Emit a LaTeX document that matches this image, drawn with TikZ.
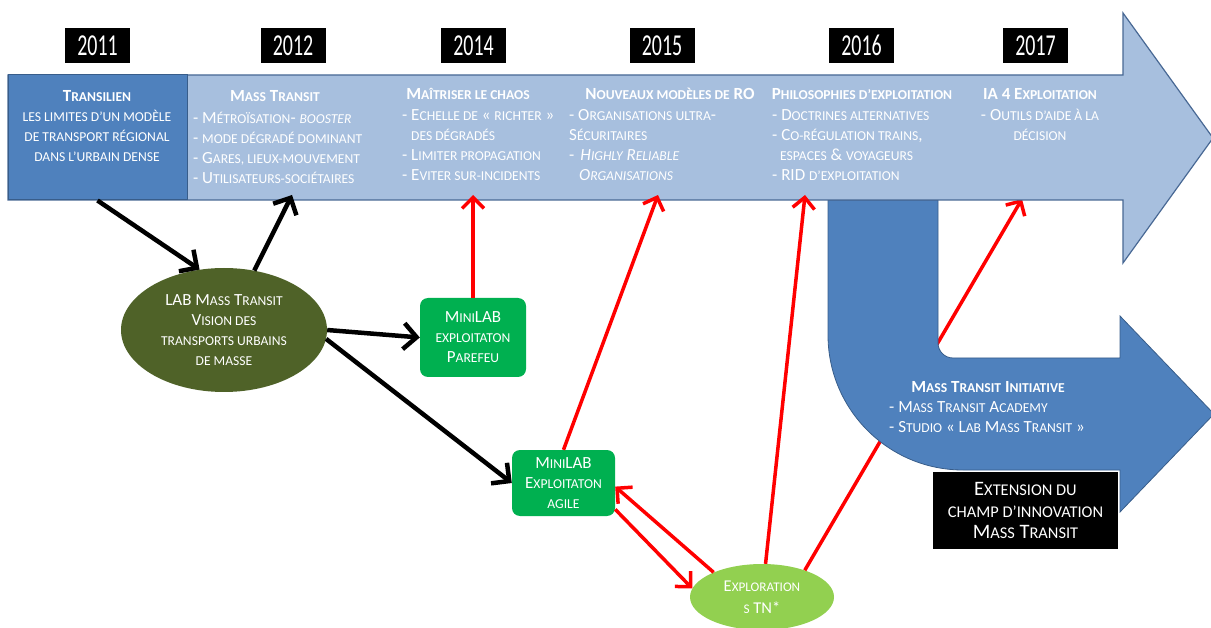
\documentclass[tikz,border=0pt]{standalone}
\usepackage{fontspec}
\usepackage{graphicx}
\setmainfont{Carlito}
\newfontfamily\scfont{Carlito}[Scale=0.8]
\usetikzlibrary{arrows.meta,shapes.geometric}
\definecolor{bandblue}{RGB}{167,191,222}
\definecolor{bandedge}{RGB}{72,104,148}
\definecolor{deepblue}{RGB}{79,129,189}
\definecolor{deepedge}{RGB}{56,93,138}
\definecolor{labolive}{RGB}{79,98,40}
\definecolor{labgreen}{RGB}{0,176,80}
\definecolor{explogreen}{RGB}{146,208,80}
\definecolor{flowred}{RGB}{255,0,0}
\newcommand{\tallyear}[1]{\scalebox{1.05}[1.6]{#1}}
\newcommand{\smc}[1]{{\scfont\MakeUppercase{#1}}}
\newcommand{\firstline}{\rule{0pt}{14pt}}
\tikzset{
  yearbox/.style={fill=black, text=white, minimum width=65pt, minimum height=35pt,
    inner sep=0pt, font=\fontsize{19}{20}\selectfont},
  title/.style={text=white, inner sep=0pt, anchor=base, font=\fontsize{17}{20}\selectfont\bfseries},
  item/.style={text=white, inner sep=0pt, align=left, anchor=north west,
    font=\fontsize{17}{20}\selectfont},
  centeritem/.style={item, align=center, anchor=north},
  minilab/.style={fill=labgreen, rounded corners=8pt, text=white, align=center,
    inner sep=0pt, font=\fontsize{17}{20}\selectfont},
  flow/.style={-{Straight Barb[length=13pt,width=26pt]}, line width=4.5pt, draw=black},
  redflow/.style={-{Straight Barb[length=11pt,width=22pt]}, line width=3.5pt, draw=flowred}
}

\begin{document}
\begin{tikzpicture}[x=1pt,y=-1pt]
\useasboundingbox (0,0) rectangle (1211,628);
\clip (0,0) rectangle (1211,628);

% Nodes below the timeline
\node[ellipse, fill=labolive, text=white, align=center, minimum width=206pt, minimum height=124pt,
  inner sep=0pt, font=\fontsize{17}{20}\selectfont] (lab) at (224,330)
  {LAB M\smc{ass} T\smc{ransit}\\V\smc{ision des}\\\smc{transports urbains}\\\smc{de masse}};
\node[minilab, minimum width=106pt, minimum height=79pt] (fire) at (473,337.5) {M\smc{ini}LAB\\\smc{exploitaton}\\P\smc{arefeu}};
\node[minilab, minimum width=103pt, minimum height=66pt] (agile) at (563.5,483) {M\smc{ini}LAB\\E\smc{xploitaton}\\\smc{agile}};
\node[ellipse, fill=explogreen, text=white, align=center, minimum width=144pt, minimum height=66pt,
  inner sep=0pt, font=\fontsize{16.5}{22}\selectfont] (explo) at (762,597) {E\smc{xploration}\\\smc{s} TN*};

% Arrow ends on the timeline
\coordinate (tgtmass) at (292,195);
\coordinate (tgtchaos) at (473,195);
\coordinate (tgtro) at (658,195);
\coordinate (tgtphilo) at (805,195);
\coordinate (tgtia) at (1022,199);

% Red link passing under the initiative arrow
\draw[redflow] (explo.32) -- (tgtia);

% Initiative arrow (U turn)
\draw[fill=deepblue, draw=deepedge, line width=0.8pt]
  (828,200) -- (828,335) arc[start angle=180, end angle=90, radius=135] -- (1120,470)
  -- (1120,512) -- (1214,414) -- (1120,316) -- (1120,358) -- (953,358)
  arc[start angle=90, end angle=180, radius=15] -- (938,200) -- cycle;

% Timeline arrow
\draw[fill=bandblue, draw=bandedge, line width=1.2pt]
  (8,75) -- (1123,75) -- (1123,13) -- (1213,138) -- (1123,263) -- (1123,200) -- (8,200) -- cycle;
\node[fill=deepblue, draw=deepedge, line width=1pt, minimum width=179pt, minimum height=125pt] (tran) at (97.5,137.5) {};

% Years
\node[yearbox] (y2011) at (97.5,45.5) {\tallyear{2011}};
\node[yearbox] (y2012) at (293,45.5) {\tallyear{2012}};
\node[yearbox] (y2014) at (473.5,45.5) {\tallyear{2014}};
\node[yearbox] (y2015) at (662,45.5) {\tallyear{2015}};
\node[yearbox] (y2016) at (861.5,45.5) {\tallyear{2016}};
\node[yearbox] (y2017) at (1035.5,45.5) {\tallyear{2017}};

% Timeline texts
\node[title] at (97,102) {T\smc{ransilien}};
\node[centeritem] at (97,107) {\firstline\smc{les limites d’un modèle}\\\smc{de transport régional}\\\smc{dans l’urbain dense}};
\node[title] at (275,102) {M\smc{ass} T\smc{ransit}};
\node[item] at (193,109) {\firstline- M\smc{étroïsation}- \textit{\smc{booster}}\\- \smc{mode dégradé dominant}\\- G\smc{ares, lieux-mouvement}\\- U\smc{tilisateurs-sociétaires}};
\node[title] at (468,100) {M\smc{aîtriser le chaos}};
\node[item] at (402,106) {\firstline- E\smc{chelle de} « \smc{richter} »\\\hspace{9pt}\smc{des dégradés}\\- L\smc{imiter propagation}\\- E\smc{viter sur-incidents}};
\node[title] at (670,100) {N\smc{ouveaux modèles de} RO};
\node[item] at (569,106) {\firstline- O\smc{rganisations ultra}-\\S\smc{écuritaires}\\-\hspace{6pt}\textit{H\smc{ighly} R\smc{eliable}}\\\hspace{10pt}\textit{O\smc{rganisations}}};
\node[title] at (862,100) {P\smc{hilosophies d’exploitation}};
\node[item] at (772,106) {\firstline- D\smc{octrines alternatives}\\- C\smc{o-régulation trains},\\\hspace{8pt}\smc{espaces} \& \smc{voyageurs}\\- RID \smc{d’exploitation}};
\node[title] at (1040,100) {IA 4 E\smc{xploitation}};
\node[centeritem] at (1040,106) {\firstline- O\smc{utils d’aide à la}\\\smc{décision}};

% Initiative texts
\node[title] at (988,392.5) {M\smc{ass} T\smc{ransit} I\smc{nitiative}};
\node[item] at (889,398) {\firstline- M\smc{ass} T\smc{ransit} A\smc{cademy}\\- S\smc{tudio} « L\smc{ab} M\smc{ass} T\smc{ransit} »};
\node[fill=black, text=white, align=center, minimum width=185pt, minimum height=77pt,
  inner sep=0pt, font=\fontsize{20.5}{21.5}\selectfont] (ext) at (1025.5,510.5) {E\smc{xtension du}\\\smc{champ d’innovation}\\M\smc{ass} T\smc{ransit}};

% Flow arrows
\draw[flow] (tran.south) -- (lab.112);
\draw[flow] (lab.63) -- (tgtmass);
\draw[flow] (lab.east) -- (fire.west);
\draw[flow] (lab.-5) -- (agile.west);
\draw[redflow] (fire.north) -- (tgtchaos);
\draw[redflow] (agile.north) -- (tgtro);
\draw[redflow] (agile.-27) -- (explo.173);
\draw[redflow] (explo.153) -- (agile.-4);
\draw[redflow] (explo) -- (tgtphilo);

\end{tikzpicture}
\end{document}
